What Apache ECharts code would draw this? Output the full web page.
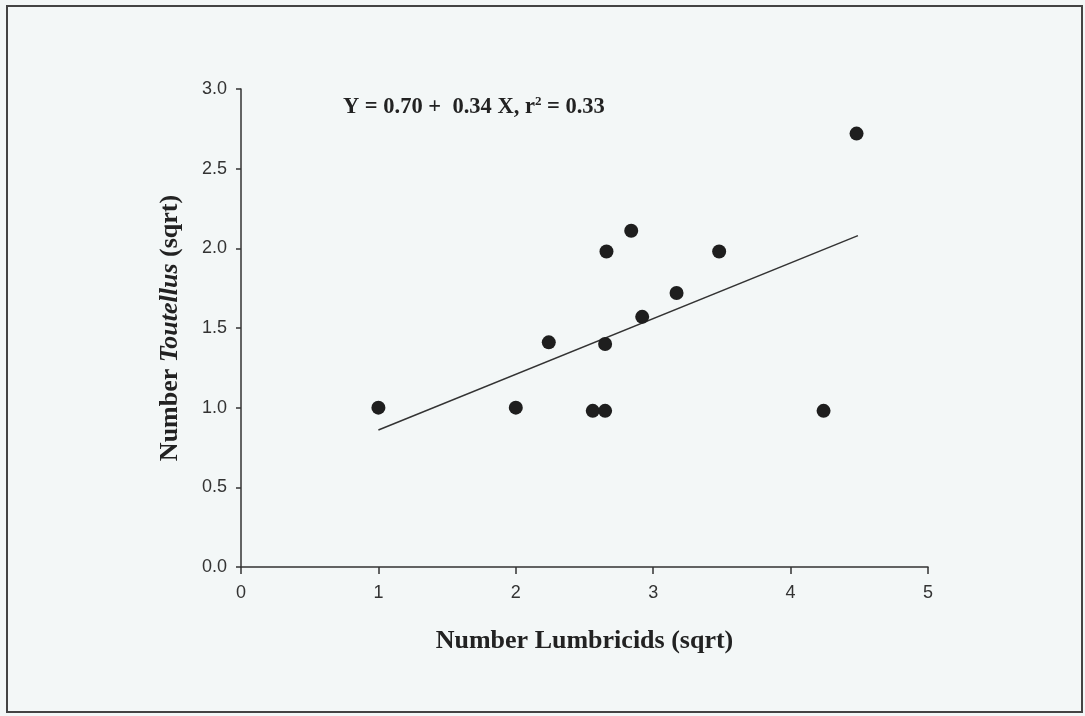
<!DOCTYPE html>
<html>
<head>
    <meta charset="utf-8">
    <title>Toutellus vs Lumbricids</title>
    <script src="https://cdn.jsdelivr.net/npm/echarts@6/dist/echarts.min.js"></script>
    <style>
        html, body { margin: 0; padding: 0; background: #f3f7f7; }
        #chart { width: 1085px; height: 716px; }
    </style>
</head>
<body>
<div id="chart"></div>
<script>
    // sqrt-transformed counts
    var lumbricids = [1.0, 2.0, 2.24, 2.56, 2.65, 2.65, 2.66, 2.84, 2.92, 3.17, 3.48, 4.24, 4.48];
    var toutellus  = [1.0, 1.0, 1.41, 0.98, 0.98, 1.40, 1.98, 2.11, 1.57, 1.72, 1.98, 0.98, 2.72];

    // fitted line as drawn (start / end)
    var fitX = [1.0, 4.49];
    var fitY = [0.86, 2.08];

    var xTicks = [0, 1, 2, 3, 4, 5];
    var yTicks = [0.0, 0.5, 1.0, 1.5, 2.0, 2.5, 3.0];

    var chart = echarts.init(document.getElementById('chart'));

    var serif = '"Liberation Serif", "Times New Roman", serif';
    var sans = '"Liberation Sans", Arial, sans-serif';

    chart.setOption({
        backgroundColor: '#f3f7f7',
        animation: false,
        grid: { left: 241, top: 89, right: 157, bottom: 149 },
        xAxis: {
            type: 'value',
            min: xTicks[0], max: xTicks[xTicks.length - 1], interval: 1,
            axisLine: { show: true, lineStyle: { color: '#333', width: 1.5 } },
            axisTick: { show: true, length: 7, lineStyle: { color: '#333', width: 1.5 } },
            axisLabel: { color: '#333', fontFamily: sans, fontSize: 18, margin: 17 },
            splitLine: { show: false },
            name: 'Number Lumbricids (sqrt)',
            nameLocation: 'middle',
            nameGap: 61,
            nameTextStyle: { fontFamily: serif, fontWeight: 'bold', fontSize: 26, color: '#222' }
        },
        yAxis: {
            type: 'value',
            min: yTicks[0], max: yTicks[yTicks.length - 1], interval: 0.5,
            axisLine: { show: true, lineStyle: { color: '#333', width: 1.5 } },
            axisTick: { show: true, length: 5, lineStyle: { color: '#333', width: 1.5 } },
            axisLabel: {
                color: '#333', fontFamily: sans, fontSize: 18, margin: 14,
                formatter: function (v) { return v.toFixed(1); }
            },
            splitLine: { show: false },
            name: '{b|Number }{i|Toutellus}{b| (sqrt)}',
            nameLocation: 'middle',
            nameGap: 58,
            nameTextStyle: {
                color: '#222',
                rich: {
                    b: { fontFamily: serif, fontWeight: 'bold', fontSize: 26, color: '#222' },
                    i: { fontFamily: serif, fontWeight: 'bold', fontStyle: 'italic', fontSize: 26, color: '#222' }
                }
            }
        },
        series: [
            {
                type: 'scatter',
                data: lumbricids.map(function (x, i) { return [x, toutellus[i]]; }),
                symbol: 'circle',
                symbolSize: 14,
                itemStyle: { color: '#1e1e1e', opacity: 1 }
            },
            {
                type: 'line',
                data: fitX.map(function (x, i) { return [x, fitY[i]]; }),
                symbol: 'none',
                lineStyle: { color: '#333', width: 1.5 },
                z: 1
            }
        ],
        graphic: [
            {
                type: 'rect',
                shape: { x: 7, y: 6, width: 1075, height: 706 },
                style: { fill: 'none', stroke: '#444', lineWidth: 2 }
            },
            {
                type: 'text',
                left: 343,
                top: 95,
                style: {
                    text: '{t|Y = 0.70 +  0.34 X, r}{s|2}{t| = 0.33}',
                    rich: {
                        t: { fontFamily: serif, fontWeight: 'bold', fontSize: 22.5, fill: '#222', verticalAlign: 'bottom' },
                        s: { fontFamily: serif, fontWeight: 'bold', fontSize: 13, fill: '#222', verticalAlign: 'top', padding: [0, 0, 11, 0] }
                    }
                }
            }
        ]
    });
</script>
</body>
</html>
